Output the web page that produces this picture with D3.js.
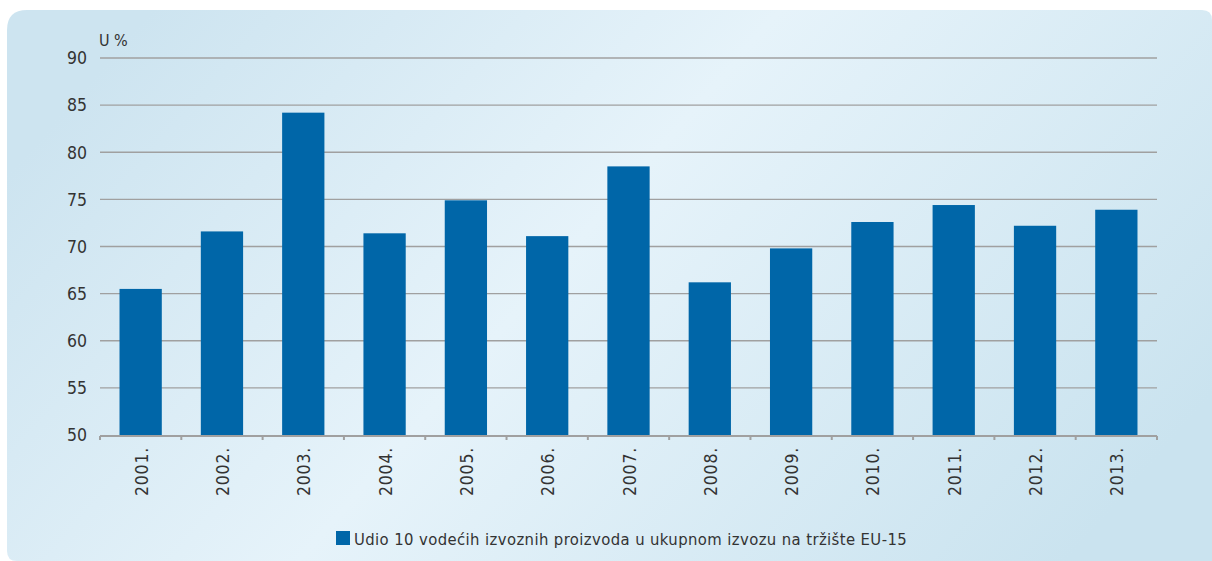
<!DOCTYPE html>
<html>
<head>
<meta charset="utf-8">
<script src="https://cdn.jsdelivr.net/npm/d3@7"></script>
<style>
  body { margin: 0; background: #ffffff; }
  text { font-family: "DejaVu Sans Condensed", "Liberation Sans Narrow", sans-serif; fill: #333; }
</style>
</head>
<body>
<script>
const width = 1212;
const height = 561;

// data
const years = ["2001.", "2002.", "2003.", "2004.", "2005.", "2006.", "2007.",
               "2008.", "2009.", "2010.", "2011.", "2012.", "2013."];
const shares = [65.5, 71.6, 84.2, 71.4, 74.9, 71.1, 78.5, 66.2, 69.8, 72.6, 74.4, 72.2, 73.9];
const yTicks = [50, 55, 60, 65, 70, 75, 80, 85, 90];
const seriesName = "Udio 10 vodećih izvoznih proizvoda u ukupnom izvozu na tržište EU-15";

const barColor = "#0066a8";
const gridColor = "#a0a0a0";

const svg = d3.select("body").append("svg")
    .attr("width", width)
    .attr("height", height);

// background panel gradient
const defs = svg.append("defs");
const grad = defs.append("linearGradient")
    .attr("id", "bg")
    .attr("x1", "0%").attr("y1", "30%")
    .attr("x2", "100%").attr("y2", "70%");
grad.append("stop").attr("offset", "0%").attr("stop-color", "#cde4f0");
grad.append("stop").attr("offset", "45%").attr("stop-color", "#e6f3fa");
grad.append("stop").attr("offset", "100%").attr("stop-color", "#cae3ef");

svg.append("path")
    .attr("d", "M7,30 Q7,10 27,10 L1202,10 Q1212,10 1212,20 L1212,561 L17,561 Q7,561 7,551 Z")
    .attr("fill", "url(#bg)");

// scales
const x = d3.scaleBand()
    .domain(years)
    .range([100, 1157])
    .paddingInner(0.48)
    .paddingOuter(0.24);

const y = d3.scaleLinear()
    .domain([50, 90])
    .range([435, 58]);

// gridlines
svg.append("g")
    .selectAll("line")
    .data(yTicks.slice(1))
    .join("line")
    .attr("x1", 100)
    .attr("x2", 1157)
    .attr("y1", d => y(d))
    .attr("y2", d => y(d))
    .attr("stroke", gridColor)
    .attr("stroke-width", 1.3);

// y labels
svg.append("g")
    .selectAll("text")
    .data(yTicks)
    .join("text")
    .attr("x", 87)
    .attr("y", d => y(d))
    .attr("dy", "0.36em")
    .attr("text-anchor", "end")
    .style("font-size", "17.5px")
    .text(d => d);

svg.append("text")
    .attr("x", 99)
    .attr("y", 46)
    .style("font-size", "16px")
    .text("U %");

// bars
svg.append("g")
    .selectAll("rect")
    .data(shares)
    .join("rect")
    .attr("x", (d, i) => x(years[i]))
    .attr("width", x.bandwidth())
    .attr("y", d => y(d))
    .attr("height", d => y(50) - y(d))
    .attr("fill", barColor);

// x axis line + ticks at band edges
const edges = d3.range(years.length + 1).map(i => 100 + i * (1057 / years.length));
svg.append("line")
    .attr("x1", 100).attr("x2", 1157)
    .attr("y1", 436).attr("y2", 436)
    .attr("stroke", gridColor)
    .attr("stroke-width", 2);
svg.append("g")
    .selectAll("line")
    .data(edges)
    .join("line")
    .attr("x1", d => d).attr("x2", d => d)
    .attr("y1", 436).attr("y2", 440)
    .attr("stroke", gridColor)
    .attr("stroke-width", 2);

// year labels, rotated
svg.append("g")
    .selectAll("text")
    .data(years)
    .join("text")
    .attr("transform", d => `translate(${x(d) + x.bandwidth() / 2 + 7},447) rotate(-90)`)
    .attr("text-anchor", "end")
    .style("font-size", "17.5px")
    .style("letter-spacing", "0.8px")
    .text(d => d);

// legend
svg.append("rect")
    .attr("x", 336).attr("y", 531)
    .attr("width", 14).attr("height", 14)
    .attr("fill", barColor);
svg.append("text")
    .attr("x", 354)
    .attr("y", 545)
    .style("font-size", "16.5px")
    .style("letter-spacing", "0.4px")
    .text(seriesName);
</script>
</body>
</html>
